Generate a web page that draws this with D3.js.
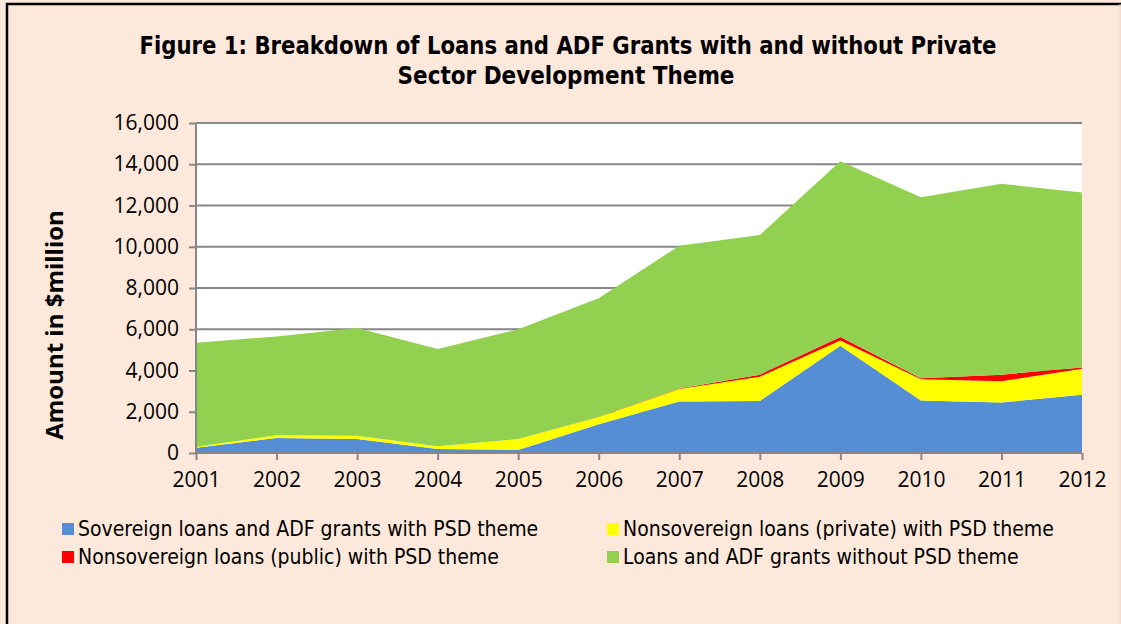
<!DOCTYPE html>
<html>
<head>
<meta charset="utf-8">
<script src="https://cdn.jsdelivr.net/npm/d3@7"></script>
<style>
  body { margin: 0; background: #fde9db; }
  svg { display: block; }
</style>
</head>
<body>
<div id="chart"></div>
<script>
// Values ($million)
var years = [2001, 2002, 2003, 2004, 2005, 2006, 2007, 2008, 2009, 2010, 2011, 2012];
var sovereign = [250, 730, 680, 200, 150, 1400, 2500, 2520, 5200, 2550, 2450, 2820];
var nonsovPrivate = [50, 130, 160, 130, 530, 350, 600, 1180, 250, 1030, 1030, 1270];
var nonsovPublic = [0, 0, 0, 0, 0, 10, 30, 100, 170, 40, 320, 60];
var withoutPsd = [5050, 4790, 5220, 4710, 5320, 5740, 6920, 6770, 8530, 8780, 9250, 8480];
var yTicks = [0, 2000, 4000, 6000, 8000, 10000, 12000, 14000, 16000];

var seriesNames = [
  "Sovereign loans and ADF grants with PSD theme",
  "Nonsovereign loans (private) with PSD theme",
  "Nonsovereign loans (public) with PSD theme",
  "Loans and ADF grants without PSD theme"
];
var colors = ["#558ed5", "#ffff00", "#ff0000", "#92d050"];

var svgWidth = 1121;
var svgHeight = 624;
var plot = { left: 196, right: 1082, top: 123, bottom: 453 };
var font = "'Open Sans', 'Noto Sans', sans-serif";
var condensed = "'DejaVu Sans Condensed', sans-serif";

var svg = d3.select("#chart").append("svg")
  .attr("width", svgWidth)
  .attr("height", svgHeight);

// background and frame
svg.append("rect").attr("width", svgWidth).attr("height", svgHeight).attr("fill", "#fde9db");
svg.append("path")
  .attr("d", "M7,624 V4 H1121")
  .attr("fill", "none")
  .attr("stroke", "#000")
  .attr("stroke-width", 2.5);
svg.append("line")
  .attr("x1", 1120).attr("x2", 1120).attr("y1", 4).attr("y2", 624)
  .attr("stroke", "#e8d2c4").attr("stroke-width", 1);

// title
var title = svg.append("text")
  .attr("text-anchor", "middle")
  .attr("font-family", condensed)
  .attr("font-weight", "bold")
  .attr("font-size", 25)
  .attr("fill", "#000");
title.append("tspan").attr("x", 568).attr("y", 54)
  .attr("textLength", 857).attr("lengthAdjust", "spacingAndGlyphs")
  .text("Figure 1: Breakdown of Loans and ADF Grants with and without Private");
title.append("tspan").attr("x", 566).attr("y", 84)
  .attr("textLength", 337).attr("lengthAdjust", "spacingAndGlyphs")
  .text("Sector Development Theme");

var table = years.map(function(y, i) {
  return { year: y, s0: sovereign[i], s1: nonsovPrivate[i], s2: nonsovPublic[i], s3: withoutPsd[i] };
});
var keys = ["s0", "s1", "s2", "s3"];
var stacked = d3.stack().keys(keys)(table);

var x = d3.scaleLinear().domain([2001, 2012]).range([plot.left, plot.right]);
var y = d3.scaleLinear().domain([0, 16000]).range([plot.bottom, plot.top]);

// plot background
svg.append("rect")
  .attr("x", plot.left).attr("y", plot.top)
  .attr("width", plot.right - plot.left).attr("height", plot.bottom - plot.top)
  .attr("fill", "#fff");

// gridlines
svg.append("g").selectAll("line")
  .data(yTicks.slice(1))
  .enter().append("line")
  .attr("x1", plot.left).attr("x2", plot.right)
  .attr("y1", d => y(d)).attr("y2", d => y(d))
  .attr("stroke", "#878787").attr("stroke-width", 2);

// stacked areas
var area = d3.area()
  .x(d => x(d.data.year))
  .y0(d => y(d[0]))
  .y1(d => y(d[1]));

svg.append("g").selectAll("path")
  .data(stacked)
  .enter().append("path")
  .attr("d", area)
  .attr("fill", (d, i) => colors[i]);

// axes
var leftAxis = d3.axisLeft(y).tickValues(yTicks).tickSize(7).tickPadding(10)
  .tickFormat(d3.format(","));
var bottomAxis = d3.axisBottom(x).tickValues(years).tickSize(7).tickPadding(12)
  .tickFormat(d3.format("d"));

var gy = svg.append("g").attr("transform", `translate(${plot.left}, 0)`).call(leftAxis);
var gx = svg.append("g").attr("transform", `translate(0, ${plot.bottom})`).call(bottomAxis);

[gx, gy].forEach(function(g) {
  g.select(".domain").attr("stroke", "#878787").attr("stroke-width", 2);
  g.selectAll(".tick line").attr("stroke", "#878787").attr("stroke-width", 2);
  g.selectAll(".tick text")
    .attr("font-family", font)
    .attr("font-size", 21)
    .attr("fill", "#000");
});
// axisLeft domain includes outer ticks; redraw clean line
gy.select(".domain").attr("d", `M0,${plot.bottom}V${plot.top}`);
gx.select(".domain").attr("d", `M${plot.left},0H${plot.right}`);

// y axis title
svg.append("text")
  .attr("transform", "translate(63, 325) rotate(-90)")
  .attr("text-anchor", "middle")
  .attr("font-family", font)
  .attr("font-weight", "bold")
  .attr("font-size", 24)
  .attr("fill", "#000")
  .text("Amount in $million");

// legend
var legendPos = [
  { x: 62, y: 523 }, { x: 607, y: 523 },
  { x: 62, y: 551 }, { x: 607, y: 551 }
];
var legend = svg.append("g").selectAll("g")
  .data(seriesNames)
  .enter().append("g")
  .attr("transform", (d, i) => `translate(${legendPos[i].x}, ${legendPos[i].y})`);

legend.append("rect")
  .attr("width", 12).attr("height", 12)
  .attr("fill", (d, i) => colors[i]);

legend.append("text")
  .attr("x", 16).attr("y", 13)
  .attr("font-family", condensed)
  .attr("font-size", 21)
  .attr("fill", "#000")
  .text(d => d);
</script>
</body>
</html>
